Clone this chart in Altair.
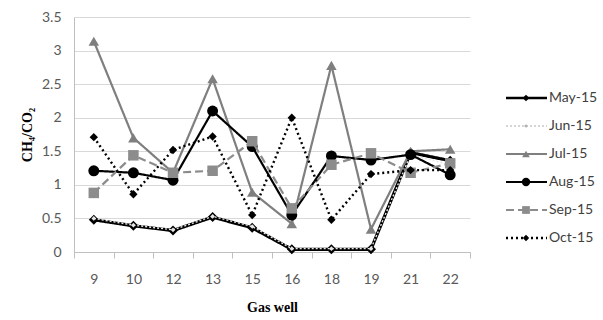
import altair as alt
import pandas as pd

wells = ["9", "10", "12", "13", "15", "16", "18", "19", "21", "22"]
series = ["May-15", "Jun-15", "Jul-15", "Aug-15", "Sep-15", "Oct-15"]
may = [0.48, 0.39, 0.32, 0.52, 0.36, 0.04, 0.04, 0.04, 1.48, 1.36]
jun = [0.50, 0.40, 0.33, 0.53, 0.38, 0.05, 0.05, 0.05, 1.45, 1.30]
jul = [3.14, 1.70, 1.18, 2.58, 0.89, 0.42, 2.78, 0.34, 1.50, 1.53]
aug = [1.21, 1.18, 1.07, 2.10, 1.57, 0.55, 1.43, 1.37, 1.45, 1.15]
sep = [0.88, 1.44, 1.18, 1.21, 1.65, 0.65, 1.30, 1.47, 1.18, 1.32]
oct_ = [1.71, 0.86, 1.52, 1.72, 0.55, 2.00, 0.48, 1.16, 1.22, 1.22]
values = [may, jun, jul, aug, sep, oct_]

styles = {
    "May-15": dict(color="#000000", dash=[1, 0], width=3.2, shape="diamond", size=100, mcolor="#000000", lsize=45),
    "Jun-15": dict(color="#e6e6e6", dash=[2, 2], width=1.4, shape="diamond", size=22, mcolor="#e6e6e6", lsize=14),
    "Jul-15": dict(color="#7f7f7f", dash=[1, 0], width=2.2, shape="triangle-up", size=110, mcolor="#7f7f7f", lsize=60),
    "Aug-15": dict(color="#000000", dash=[1, 0], width=2.2, shape="circle", size=120, mcolor="#000000", lsize=70),
    "Sep-15": dict(color="#8c8c8c", dash=[8, 4], width=2.2, shape="square", size=110, mcolor="#8c8c8c", lsize=60),
    "Oct-15": dict(color="#000000", dash=[2, 3], width=2.4, shape="diamond", size=70, mcolor="#000000", lsize=40),
}

rows = []
for s, vals in zip(series, values):
    for w, v in zip(wells, vals):
        rows.append({"well": w, "series": s, "value": v})
df = pd.DataFrame(rows)

LABEL_FONT = "Lato"
xenc = alt.X("well:N", sort=wells, title="Gas well",
             scale=alt.Scale(type="band", paddingInner=0, paddingOuter=0),
             axis=alt.Axis(tickBand="extent", labelAngle=0, labelFont=LABEL_FONT, labelFontSize=14,
                           labelColor="#595959", labelPadding=14, ticks=True, tickSize=6, tickColor="#bfbfbf",
                           domainColor="#bfbfbf", grid=False, titleFont="Liberation Serif",
                           titleFontSize=14, titleFontWeight="bold", titleColor="#000000",
                           titlePadding=14))
yenc = alt.Y("value:Q", title="CH₄/CO₂",
             scale=alt.Scale(domain=[0, 3.5], nice=False),
             axis=alt.Axis(values=[0, 0.5, 1, 1.5, 2, 2.5, 3, 3.5], format="~g", labelFont=LABEL_FONT,
                           labelFontSize=14, labelColor="#595959", ticks=False, labelPadding=13,
                           domainColor="#bfbfbf", gridColor="#d9d9d9", gridWidth=1.2,
                           titleFont="Liberation Serif", titleFontSize=14, titleFontWeight="bold",
                           titleColor="#000000", titlePadding=7))

layers = []
for s in series:
    st = styles[s]
    base = alt.Chart(df).transform_filter(alt.datum.series == s)
    line = base.mark_line(color=st["color"], strokeDash=st["dash"], strokeWidth=st["width"]).encode(
        x=xenc, y=yenc)
    pts = base.mark_point(shape=st["shape"], size=st["size"], filled=True, color=st["mcolor"],
                          opacity=1).encode(x=xenc, y=yenc)
    layers += [line, pts]

main = alt.layer(*layers).properties(width=396, height=235)

leg_df = pd.DataFrame({"series": series})
yleg = alt.Y("series:N", sort=series, axis=None,
             scale=alt.Scale(type="point", domain=series, range=[81, 221], padding=0))
leg_layers = []
for s in series:
    st = styles[s]
    b = alt.Chart(leg_df).transform_filter(alt.datum.series == s)
    leg_layers.append(b.mark_rule(color="#c8c8c8" if s == "Jun-15" else st["color"], strokeDash=st["dash"],
                                  strokeWidth=min(st["width"], 2.6)).encode(
        x=alt.value(0), x2=alt.value(41), y=yleg))
    leg_layers.append(b.mark_point(shape=st["shape"], size=st["lsize"], filled=True,
                                   color="#b0b0b0" if s == "Jun-15" else st["mcolor"], opacity=1).encode(
        x=alt.value(20), y=yleg))
leg_layers.append(alt.Chart(leg_df).mark_text(align="left", baseline="middle", font=LABEL_FONT,
                                              fontSize=14, color="#404040").encode(
    x=alt.value(43), y=yleg, text="series:N"))
legend = alt.layer(*leg_layers).properties(width=90, height=235)

chart = alt.hconcat(main, legend, spacing=33).properties(
    background="white", padding={"left": 20, "top": 10, "right": 5, "bottom": 5}
).configure_view(strokeWidth=0, stroke="transparent")

chart.save("out.html", embed_options={"renderer": "svg", "actions": False})
